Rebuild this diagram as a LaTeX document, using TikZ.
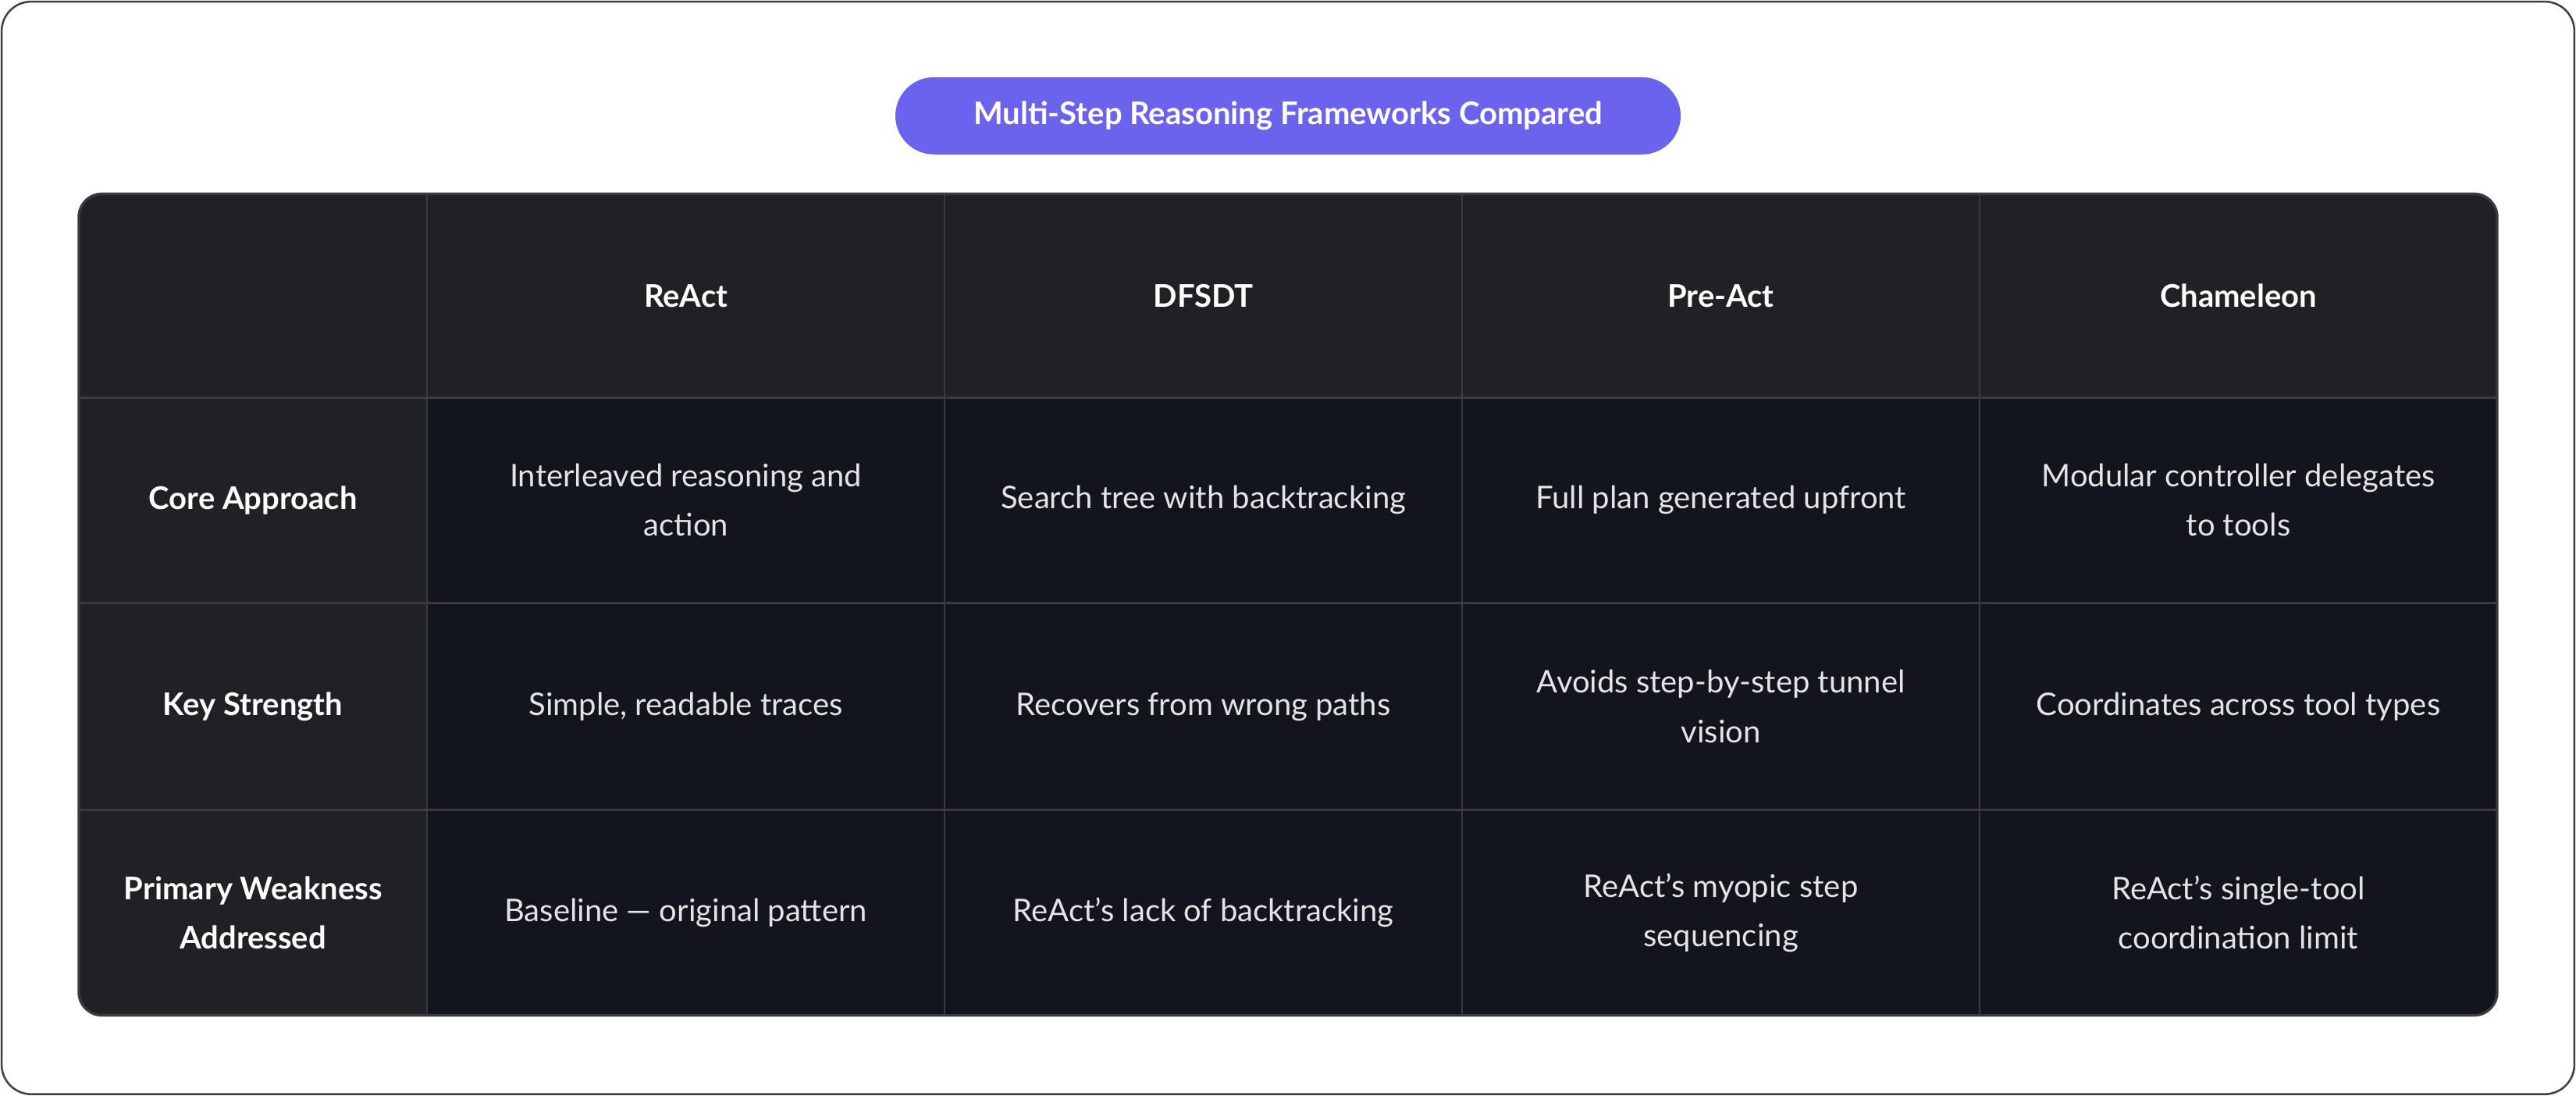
\documentclass[tikz,border=0pt]{standalone}
\usepackage{fontspec}
\setmainfont{Lato}
\definecolor{pillblue}{HTML}{6B63EE}
\definecolor{headbg}{HTML}{202125}
\definecolor{cellbg}{HTML}{13151C}
\definecolor{gridln}{HTML}{3A3B40}
\definecolor{celltxt}{HTML}{E4E4E6}
\tikzset{
  head/.style={text=white, font=\fontsize{9.5}{15}\selectfont\bfseries, align=center},
  cell/.style={text=celltxt, font=\fontsize{9.5}{15}\selectfont, align=center}
}
\begin{document}
\begin{tikzpicture}[x=0.5pt, y=-0.5pt]
  \useasboundingbox (0,0) rectangle (1568,667);
  \draw[fill=white, draw=black!75, line width=0.6pt, rounded corners=9pt] (1,1) rectangle (1567,666);
  % title
  \node[fill=pillblue, rounded corners=11.75pt, minimum width=239pt, minimum height=23.5pt,
        text=white, font=\fontsize{9.5}{12}\selectfont\bfseries] (title) at (784,70.5) {Multi-Step Reasoning Frameworks Compared};
  % table background
  \fill[cellbg, rounded corners=7pt] (48,118) rectangle (1520,618);
  \begin{scope}
    \clip[rounded corners=7pt] (48,118) rectangle (1520,618);
    \fill[headbg] (48,118) rectangle (1520,242);
    \fill[headbg] (48,118) rectangle (260,618);
  \end{scope}
  % grid
  \foreach \x in {260,575,890,1205}
    \draw[gridln, line width=0.6pt] (\x,118) -- (\x,618);
  \foreach \y in {242,367,493}
    \draw[gridln, line width=0.6pt] (48,\y) -- (1520,\y);
  \draw[gridln, line width=0.8pt, rounded corners=7pt] (48,118) rectangle (1520,618);
  % header row
  \node[head] (react) at (417.5,180) {ReAct};
  \node[head] (dfsdt) at (732.5,180) {DFSDT};
  \node[head] (preact) at (1047.5,180) {Pre-Act};
  \node[head] (cham) at (1362.5,180) {Chameleon};
  % first column
  \node[head] (core) at (154,304.5) {Core Approach};
  \node[head] (key) at (154,430) {Key Strength};
  \node[head] (weak) at (154,555.5) {Primary Weakness\\Addressed};
  % row 1
  \node[cell] (c11) at (417.5,304.5) {Interleaved reasoning and\\action};
  \node[cell] (c12) at (732.5,304.5) {Search tree with backtracking};
  \node[cell] (c13) at (1047.5,304.5) {Full plan generated upfront};
  \node[cell] (c14) at (1362.5,304.5) {Modular controller delegates\\to tools};
  % row 2
  \node[cell] (c21) at (417.5,430) {Simple, readable traces};
  \node[cell] (c22) at (732.5,430) {Recovers from wrong paths};
  \node[cell] (c23) at (1047.5,430) {Avoids step-by-step tunnel\\vision};
  \node[cell] (c24) at (1362.5,430) {Coordinates across tool types};
  % row 3
  \node[cell] (c31) at (417.5,555.5) {Baseline — original pattern};
  \node[cell] (c32) at (732.5,555.5) {ReAct's lack of backtracking};
  \node[cell] (c33) at (1047.5,555.5) {ReAct's myopic step\\sequencing};
  \node[cell] (c34) at (1362.5,555.5) {ReAct's single-tool\\coordination limit};
\end{tikzpicture}
\end{document}
